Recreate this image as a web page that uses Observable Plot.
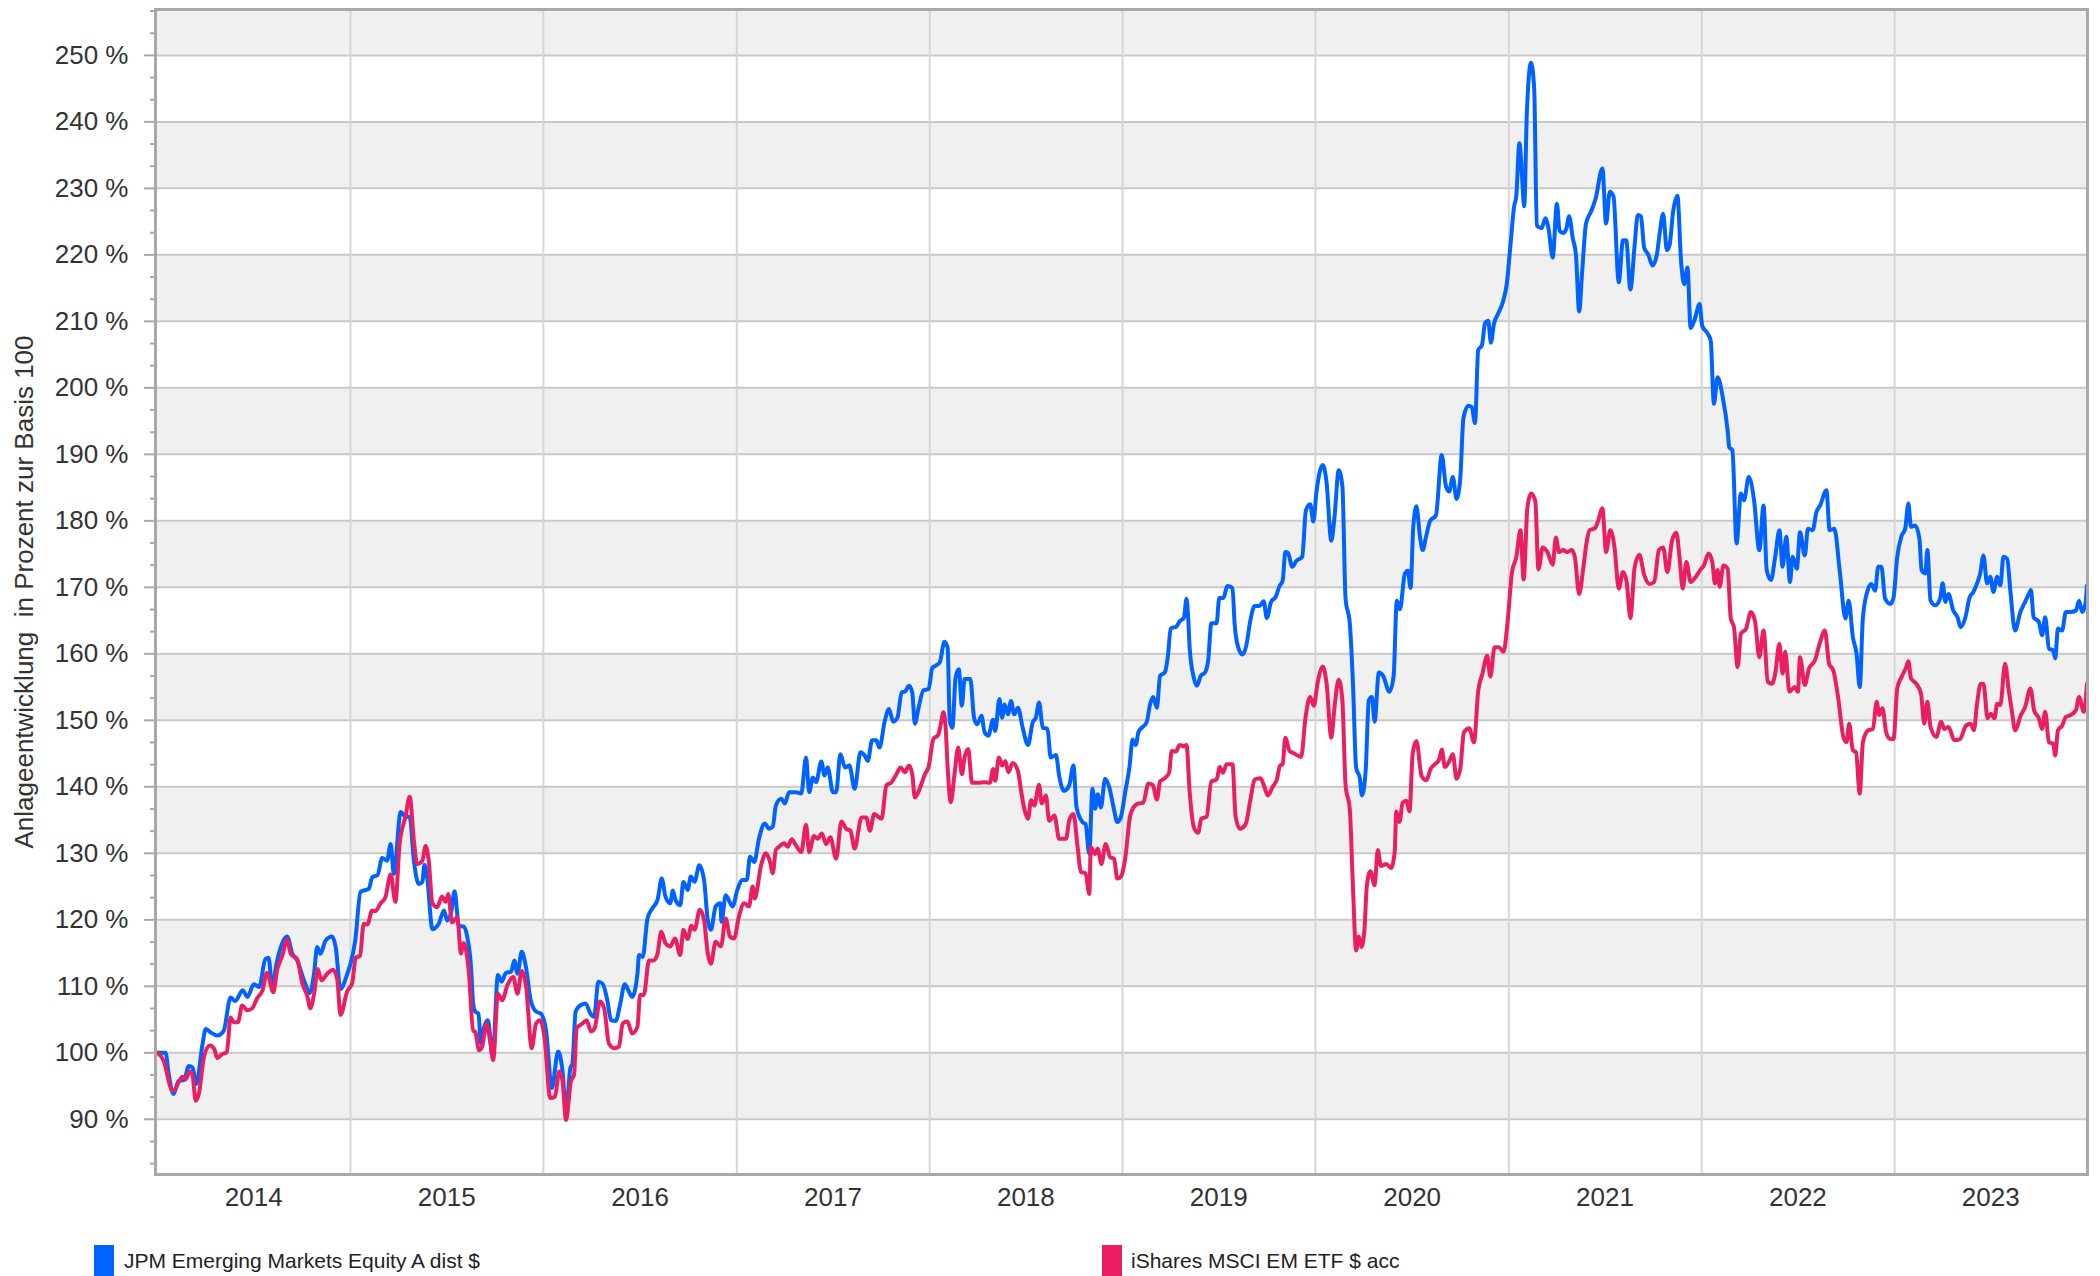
<!DOCTYPE html>
<html>
<head>
<meta charset="utf-8">
<script src="https://cdn.jsdelivr.net/npm/d3@7"></script>
<script src="https://cdn.jsdelivr.net/npm/@observablehq/plot@0.6"></script>
<style>
  html, body { margin: 0; padding: 0; background: #fff; }
  #wrap { position: relative; width: 2100px; height: 1276px; overflow: hidden; font-family: "Liberation Sans", Arial, sans-serif; }
  #legend { position: absolute; left: 0; top: 0; width: 2100px; height: 1276px; pointer-events: none; }
  .sw { position: absolute; top: 1245px; width: 20px; height: 40px; }
  .lt { position: absolute; top: 1250px; font-size: 21px; line-height: 21px; color: #222; white-space: nowrap; }
</style>
</head>
<body>
<div id="wrap">
  <div id="chart"></div>
  <div id="legend"></div>
</div>
<script>
// ---------- data ----------
const seriesNames = ["JPM Emerging Markets Equity A dist $", "iShares MSCI EM ETF $ acc"];
const seriesColors = ["#0062ff", "#e91e63"];
const yAxisTitle = "Anlageentwicklung\u00a0 in Prozent zur Basis 100";
const yTickValues = [90, 100, 110, 120, 130, 140, 150, 160, 170, 180, 190, 200, 210, 220, 230, 240, 250];
const yearLabels = ["2014", "2015", "2016", "2017", "2018", "2019", "2020", "2021", "2022", "2023"];
const yearStarts = ["2015-01-01", "2016-01-01", "2017-01-01", "2018-01-01", "2019-01-01", "2020-01-01", "2021-01-01", "2022-01-01", "2023-01-01"];
const bandLow = [90, 110, 130, 150, 170, 190, 210, 230, 250];
const xDomain = ["2013-12-28", "2024-01-01"];
const yDomain = [81.7, 256.9];

const jpm = [
["2014-01-01",100.0],["2014-01-16",100.0],["2014-01-22",96.8],["2014-01-31",93.8],["2014-02-10",95.8],["2014-02-20",95.9],
["2014-03-01",98.0],["2014-03-08",97.8],["2014-03-15",95.3],["2014-03-27",101.3],["2014-04-02",103.6],["2014-04-11",103.1],
["2014-04-24",102.6],["2014-05-06",103.3],["2014-05-19",108.3],["2014-05-28",107.8],["2014-06-11",109.4],["2014-06-20",108.4],
["2014-07-02",110.3],["2014-07-12",109.9],["2014-07-24",114.1],["2014-07-30",114.3],["2014-08-06",109.8],["2014-08-14",113.4],
["2014-09-03",117.5],["2014-09-13",114.9],["2014-09-22",113.9],["2014-10-05",110.9],["2014-10-16",109.0],["2014-10-24",111.9],
["2014-10-30",115.9],["2014-11-05",114.9],["2014-11-15",116.9],["2014-11-27",117.5],["2014-12-04",115.9],["2014-12-13",109.6],
["2014-12-26",111.9],
["2015-01-01",113.4],["2015-01-10",116.9],["2015-01-20",124.2],["2015-02-05",124.7],["2015-02-11",126.4],["2015-02-21",126.7],
["2015-03-02",129.3],["2015-03-11",128.9],["2015-03-18",131.4],["2015-03-24",126.9],["2015-04-06",136.2],["2015-04-15",135.5],
["2015-04-23",135.5],["2015-05-01",128.9],["2015-05-10",125.4],["2015-05-17",125.7],["2015-05-21",128.3],["2015-05-26",126.4],
["2015-06-05",118.6],["2015-06-17",119.4],["2015-06-27",121.4],["2015-07-03",119.9],["2015-07-10",120.9],["2015-07-17",124.3],
["2015-07-25",119.1],["2015-08-03",119.0],["2015-08-10",117.4],["2015-08-17",113.0],["2015-08-21",107.5],["2015-08-25",106.2],
["2015-08-31",105.9],["2015-09-05",101.4],["2015-09-11",103.9],["2015-09-18",104.9],["2015-09-27",99.4],["2015-10-07",111.7],
["2015-10-14",110.7],["2015-10-22",112.0],["2015-11-01",112.2],["2015-11-07",113.9],["2015-11-13",111.9],["2015-11-21",115.2],
["2015-11-29",112.9],["2015-12-08",107.9],["2015-12-18",106.2],["2015-12-27",105.9],
["2016-01-06",103.4],["2016-01-17",94.7],["2016-01-29",100.2],["2016-02-06",97.4],["2016-02-13",91.2],["2016-02-21",97.7],
["2016-02-25",98.4],["2016-03-02",106.2],["2016-03-12",107.2],["2016-03-21",107.4],["2016-03-30",105.9],["2016-04-06",105.4],
["2016-04-14",110.7],["2016-04-22",110.4],["2016-05-01",107.9],["2016-05-08",104.9],["2016-05-17",104.8],["2016-05-25",107.2],
["2016-06-03",110.3],["2016-06-11",109.2],["2016-06-17",108.4],["2016-06-27",111.9],["2016-06-30",114.7],["2016-07-07",114.4],
["2016-07-16",120.2],["2016-07-25",121.7],["2016-08-04",123.0],["2016-08-12",126.2],["2016-08-19",123.5],["2016-08-28",122.5],
["2016-09-02",124.4],["2016-09-07",123.0],["2016-09-16",122.2],["2016-09-22",125.7],["2016-09-30",124.5],["2016-10-06",126.5],
["2016-10-13",125.7],["2016-10-22",128.2],["2016-10-31",126.0],["2016-11-07",120.0],["2016-11-13",118.5],["2016-11-22",122.0],
["2016-12-01",122.5],["2016-12-03",119.7],["2016-12-11",123.7],["2016-12-24",122.0],
["2017-01-02",124.5],["2017-01-12",126.0],["2017-01-20",126.0],["2017-01-26",129.5],["2017-02-03",128.7],["2017-02-12",132.2],
["2017-02-23",134.5],["2017-03-03",133.7],["2017-03-10",134.0],["2017-03-16",137.2],["2017-03-26",138.2],["2017-04-02",137.5],
["2017-04-10",139.2],["2017-04-23",139.2],["2017-05-03",139.0],["2017-05-12",144.4],["2017-05-18",139.2],["2017-05-25",141.4],
["2017-05-31",140.7],["2017-06-10",143.8],["2017-06-16",141.7],["2017-06-22",142.9],["2017-07-02",139.2],["2017-07-08",139.2],
["2017-07-16",144.9],["2017-07-25",142.9],["2017-08-02",143.2],["2017-08-12",139.7],["2017-08-23",145.2],["2017-08-31",144.7],
["2017-09-06",143.9],["2017-09-14",147.0],["2017-09-22",147.0],["2017-09-28",145.9],["2017-10-08",149.9],["2017-10-16",151.7],
["2017-10-24",149.8],["2017-11-01",150.4],["2017-11-09",154.2],["2017-11-15",154.3],["2017-11-23",155.2],["2017-11-29",154.2],
["2017-12-04",149.5],["2017-12-11",151.9],["2017-12-20",154.5],["2017-12-30",154.7],
["2018-01-06",157.9],["2018-01-12",158.2],["2018-01-20",158.7],["2018-01-29",161.8],["2018-02-04",160.9],["2018-02-08",149.9],
["2018-02-13",148.9],["2018-02-19",156.4],["2018-02-25",157.7],["2018-03-03",152.2],["2018-03-08",156.2],["2018-03-19",156.2],
["2018-03-26",150.4],["2018-04-01",149.4],["2018-04-09",150.7],["2018-04-15",148.2],["2018-04-22",147.7],["2018-05-01",150.1],
["2018-05-05",148.4],["2018-05-13",153.2],["2018-05-18",150.4],["2018-05-23",152.4],["2018-05-29",150.9],["2018-06-04",152.9],
["2018-06-10",150.9],["2018-06-17",151.9],["2018-06-26",148.9],["2018-07-06",146.3],["2018-07-15",149.7],["2018-07-21",150.4],
["2018-07-27",152.7],["2018-08-03",148.9],["2018-08-12",148.7],["2018-08-18",144.4],["2018-08-28",144.8],["2018-09-03",141.7],
["2018-09-12",139.4],["2018-09-22",140.2],["2018-09-30",143.2],["2018-10-06",136.9],["2018-10-17",134.7],["2018-10-23",134.4],
["2018-10-30",129.9],["2018-11-05",139.7],["2018-11-10",136.7],["2018-11-15",138.9],["2018-11-21",136.9],["2018-11-29",141.2],
["2018-12-07",139.9],["2018-12-15",136.9],["2018-12-22",134.7],["2018-12-29",135.5],
["2019-01-06",139.2],["2019-01-14",142.9],["2019-01-20",147.1],["2019-01-26",146.3],["2019-01-31",148.2],["2019-02-16",149.8],
["2019-02-22",152.4],["2019-02-28",153.5],["2019-03-07",151.9],["2019-03-13",156.7],["2019-03-22",157.2],["2019-03-28",159.8],
["2019-04-02",163.8],["2019-04-13",164.1],["2019-04-19",164.9],["2019-04-27",165.4],["2019-05-02",168.3],["2019-05-05",165.7],
["2019-05-08",160.9],["2019-05-15",156.7],["2019-05-22",155.2],["2019-05-29",156.7],["2019-06-06",157.2],["2019-06-12",159.0],
["2019-06-18",164.6],["2019-06-28",164.6],["2019-07-03",168.4],["2019-07-11",168.4],["2019-07-18",170.2],["2019-07-28",169.9],
["2019-08-01",164.6],["2019-08-07",161.2],["2019-08-16",159.9],["2019-08-23",161.2],["2019-08-31",165.1],["2019-09-08",167.2],
["2019-09-17",167.2],["2019-09-25",167.9],["2019-10-01",165.4],["2019-10-09",167.8],["2019-10-18",168.6],["2019-10-25",170.2],
["2019-10-31",171.0],["2019-11-05",175.3],["2019-11-10",175.2],["2019-11-18",173.1],["2019-11-26",174.0],["2019-12-07",174.6],
["2019-12-14",181.6],["2019-12-22",182.5],["2019-12-28",179.9],
["2020-01-03",184.4],["2020-01-15",188.4],["2020-01-22",185.8],["2020-01-31",177.0],["2020-02-06",180.5],["2020-02-14",187.6],
["2020-02-21",185.2],["2020-02-27",168.3],["2020-03-06",164.6],["2020-03-12",155.6],["2020-03-18",142.9],["2020-03-25",141.3],
["2020-03-29",138.7],["2020-04-05",142.4],["2020-04-11",153.0],["2020-04-17",153.5],["2020-04-22",149.8],["2020-04-30",157.2],
["2020-05-08",156.7],["2020-05-20",154.3],["2020-05-28",156.7],["2020-06-03",168.0],["2020-06-09",166.7],["2020-06-18",172.0],
["2020-06-24",172.5],["2020-06-29",169.9],["2020-07-04",178.9],["2020-07-10",182.2],["2020-07-17",177.5],["2020-07-22",175.6],
["2020-07-28",177.5],["2020-08-05",180.0],["2020-08-16",180.8],["2020-08-27",189.9],["2020-09-04",185.2],["2020-09-10",184.4],
["2020-09-17",186.6],["2020-09-24",183.3],["2020-10-01",186.3],["2020-10-07",195.4],["2020-10-16",197.3],["2020-10-23",197.1],
["2020-10-29",194.7],["2020-11-04",205.7],["2020-11-11",206.4],["2020-11-17",209.7],["2020-11-23",210.1],["2020-11-28",206.8],
["2020-12-04",209.7],["2020-12-12",211.2],["2020-12-21",213.0],["2020-12-28",215.6],
["2021-01-04",221.4],["2021-01-11",227.3],["2021-01-15",228.8],["2021-01-21",236.8],["2021-01-26",231.7],["2021-01-30",227.3],
["2021-02-04",241.2],["2021-02-12",248.9],["2021-02-18",244.9],["2021-02-23",224.4],["2021-03-04",224.0],["2021-03-11",225.5],
["2021-03-17",224.0],["2021-03-25",219.6],["2021-04-02",227.7],["2021-04-07",223.6],["2021-04-14",223.3],["2021-04-20",224.0],
["2021-04-25",225.8],["2021-05-02",222.5],["2021-05-08",220.0],["2021-05-14",211.5],["2021-05-20",217.8],["2021-05-27",224.7],
["2021-06-06",226.6],["2021-06-14",228.4],["2021-06-27",233.0],["2021-07-04",224.7],["2021-07-11",229.5],["2021-07-18",228.8],
["2021-07-28",215.9],["2021-08-05",222.2],["2021-08-11",222.2],["2021-08-19",214.8],["2021-08-27",221.4],["2021-09-02",226.0],
["2021-09-08",225.8],["2021-09-14",221.1],["2021-09-22",220.0],["2021-09-30",218.4],["2021-10-08",220.0],["2021-10-14",223.6],
["2021-10-20",226.2],["2021-10-27",220.7],["2021-11-01",221.4],["2021-11-08",226.6],["2021-11-16",228.9],["2021-11-23",218.9],
["2021-11-29",215.6],["2021-12-05",218.1],["2021-12-11",209.0],["2021-12-19",210.4],["2021-12-28",212.6],
["2022-01-02",209.3],["2022-01-12",208.2],["2022-01-18",207.1],["2022-01-24",197.6],["2022-01-31",201.6],["2022-02-10",198.5],
["2022-02-19",193.6],["2022-02-22",191.1],["2022-02-28",190.6],["2022-03-08",176.6],["2022-03-16",184.1],["2022-03-22",183.1],
["2022-03-31",186.6],["2022-04-10",183.1],["2022-04-20",175.6],["2022-04-28",182.3],["2022-05-04",172.6],["2022-05-12",171.1],
["2022-05-20",174.6],["2022-05-28",178.6],["2022-06-03",173.1],["2022-06-10",177.6],["2022-06-17",170.8],["2022-06-22",174.6],
["2022-06-30",172.8],["2022-07-06",178.3],["2022-07-15",174.8],["2022-07-21",178.8],["2022-07-30",178.6],["2022-08-06",181.3],
["2022-08-13",182.3],["2022-08-25",184.6],["2022-08-31",178.6],["2022-09-09",178.8],["2022-09-19",172.6],["2022-09-30",165.3],
["2022-10-06",168.0],["2022-10-14",162.5],["2022-10-21",160.0],["2022-10-27",155.0],["2022-11-02",165.5],["2022-11-12",169.8],
["2022-11-18",170.5],["2022-11-25",169.5],["2022-12-01",173.1],["2022-12-07",173.1],["2022-12-14",168.3],["2022-12-24",167.5],
["2022-12-30",168.5],
["2023-01-06",174.6],["2023-01-14",177.7],["2023-01-21",178.8],["2023-01-27",182.6],["2023-02-01",179.1],["2023-02-09",179.3],
["2023-02-17",177.3],["2023-02-21",172.6],["2023-02-28",172.1],["2023-03-04",175.6],["2023-03-10",168.0],["2023-03-19",167.3],
["2023-03-28",168.3],["2023-04-02",170.6],["2023-04-07",167.8],["2023-04-13",169.0],["2023-04-22",166.5],["2023-04-30",165.5],
["2023-05-06",164.0],["2023-05-15",165.5],["2023-05-23",168.5],["2023-05-30",169.3],["2023-06-06",170.6],["2023-06-12",172.1],
["2023-06-18",174.8],["2023-06-25",170.6],["2023-07-01",171.6],["2023-07-07",169.3],["2023-07-14",171.6],["2023-07-20",170.3],
["2023-07-26",174.6],["2023-08-02",174.3],["2023-08-08",169.5],["2023-08-17",163.5],["2023-08-27",166.3],["2023-09-03",167.5],
["2023-09-12",169.0],["2023-09-16",169.6],["2023-09-21",165.5],["2023-10-01",164.8],["2023-10-07",162.8],["2023-10-13",165.5],
["2023-10-20",160.8],["2023-10-28",160.5],["2023-11-01",159.3],["2023-11-06",163.8],["2023-11-14",163.5],["2023-11-21",166.3],
["2023-11-30",166.3],["2023-12-10",166.5],["2023-12-16",168.0],["2023-12-22",166.3],["2023-12-28",167.5],["2023-12-31",170.3]
];

const ishares = [
["2014-01-01",100.0],["2014-01-13",98.7],["2014-01-27",94.5],["2014-01-31",94.3],["2014-02-17",96.4],["2014-02-23",96.0],
["2014-03-03",97.2],["2014-03-08",96.7],["2014-03-14",92.8],["2014-03-20",93.8],["2014-03-30",99.5],["2014-04-10",101.1],
["2014-04-18",100.6],["2014-04-24",99.2],["2014-05-03",99.8],["2014-05-12",100.1],["2014-05-19",105.3],["2014-05-25",104.6],
["2014-06-02",104.6],["2014-06-10",107.1],["2014-06-20",106.4],["2014-06-29",106.7],["2014-07-09",108.3],["2014-07-18",109.3],
["2014-07-27",112.0],["2014-08-08",109.1],["2014-08-15",112.4],["2014-08-25",114.6],["2014-09-03",117.0],["2014-09-10",114.9],
["2014-09-22",114.1],["2014-10-02",110.4],["2014-10-11",108.6],["2014-10-17",106.7],["2014-10-24",108.8],["2014-10-31",112.6],
["2014-11-07",110.9],["2014-11-18",111.9],["2014-11-29",112.5],["2014-12-07",111.0],["2014-12-13",105.7],["2014-12-26",109.3],
["2015-01-04",110.4],["2015-01-11",114.3],["2015-01-19",114.6],["2015-01-26",119.4],["2015-02-02",119.3],["2015-02-11",121.4],
["2015-02-17",121.3],["2015-02-27",122.5],["2015-03-08",123.4],["2015-03-18",126.8],["2015-03-27",122.7],["2015-04-04",131.5],
["2015-04-15",135.5],["2015-04-23",138.5],["2015-05-01",131.9],["2015-05-07",128.4],["2015-05-17",128.9],["2015-05-23",131.1],
["2015-05-29",128.9],["2015-06-05",122.5],["2015-06-14",121.9],["2015-06-23",123.5],["2015-06-30",122.7],["2015-07-05",123.9],
["2015-07-12",119.6],["2015-07-22",120.4],["2015-07-29",114.9],["2015-08-03",116.5],["2015-08-13",112.1],["2015-08-21",103.3],
["2015-08-25",103.2],["2015-09-01",100.4],["2015-09-07",100.9],["2015-09-15",104.4],["2015-09-22",101.9],["2015-09-28",98.9],
["2015-10-07",108.9],["2015-10-15",107.9],["2015-10-25",110.2],["2015-11-05",111.4],["2015-11-13",108.9],["2015-11-21",112.3],
["2015-11-29",110.2],["2015-12-10",100.7],["2015-12-18",104.4],["2015-12-26",104.9],
["2016-01-03",102.4],["2016-01-14",93.2],["2016-01-23",93.4],["2016-01-31",97.2],["2016-02-06",95.9],["2016-02-13",89.9],
["2016-02-22",95.7],["2016-02-28",96.7],["2016-03-04",103.7],["2016-03-15",104.4],["2016-03-23",104.9],["2016-03-31",103.2],
["2016-04-07",103.7],["2016-04-17",107.7],["2016-04-25",106.7],["2016-05-04",101.4],["2016-05-14",100.7],["2016-05-23",100.9],
["2016-05-30",104.4],["2016-06-08",104.7],["2016-06-17",102.9],["2016-06-27",103.9],["2016-07-02",108.7],["2016-07-09",108.7],
["2016-07-19",113.9],["2016-07-28",113.9],["2016-08-04",114.9],["2016-08-11",118.2],["2016-08-19",116.5],["2016-08-28",116.0],
["2016-09-06",117.2],["2016-09-16",114.7],["2016-09-22",118.5],["2016-09-30",117.1],["2016-10-07",119.1],["2016-10-13",118.5],
["2016-10-23",121.5],["2016-10-31",120.0],["2016-11-07",115.0],["2016-11-13",113.4],["2016-11-22",116.7],["2016-12-02",116.0],
["2016-12-11",120.2],["2016-12-19",117.5],["2016-12-27",117.2],
["2017-01-05",120.5],["2017-01-15",122.5],["2017-01-24",122.0],["2017-01-31",125.0],["2017-02-04",123.2],["2017-02-16",128.2],
["2017-02-25",130.0],["2017-03-05",128.7],["2017-03-10",127.0],["2017-03-16",130.5],["2017-03-22",131.0],["2017-04-01",131.5],
["2017-04-07",131.0],["2017-04-15",132.1],["2017-04-23",131.2],["2017-05-03",130.2],["2017-05-12",134.3],["2017-05-18",130.2],
["2017-05-27",132.6],["2017-06-03",132.2],["2017-06-11",133.0],["2017-06-19",131.4],["2017-06-27",132.4],["2017-07-08",129.2],
["2017-07-18",134.8],["2017-07-27",133.7],["2017-08-04",133.4],["2017-08-12",130.7],["2017-08-25",135.4],["2017-09-03",135.4],
["2017-09-10",133.4],["2017-09-18",135.9],["2017-10-02",135.2],["2017-10-11",140.2],["2017-10-21",140.7],["2017-10-30",141.9],
["2017-11-07",142.9],["2017-11-15",142.2],["2017-11-23",143.2],["2017-11-29",141.9],["2017-12-04",138.4],["2017-12-14",139.9],
["2017-12-23",141.9],["2017-12-30",143.0],
["2018-01-08",147.2],["2018-01-17",147.8],["2018-01-22",149.4],["2018-01-27",151.2],["2018-01-31",149.2],["2018-02-04",142.9],
["2018-02-10",137.7],["2018-02-17",141.9],["2018-02-24",145.9],["2018-03-03",141.9],["2018-03-08",144.4],["2018-03-15",145.7],
["2018-03-22",140.6],["2018-04-03",140.6],["2018-04-15",140.7],["2018-04-25",140.6],["2018-05-01",142.7],["2018-05-05",140.9],
["2018-05-12",144.4],["2018-05-18",143.2],["2018-05-24",143.9],["2018-05-30",142.2],["2018-06-07",143.6],["2018-06-17",142.4],
["2018-06-23",139.4],["2018-06-29",136.7],["2018-07-06",135.2],["2018-07-12",138.0],["2018-07-18",137.2],["2018-07-27",140.3],
["2018-08-01",137.5],["2018-08-09",138.7],["2018-08-15",134.9],["2018-08-25",135.7],["2018-09-03",132.2],["2018-09-16",132.2],
["2018-09-22",134.9],["2018-09-30",135.9],["2018-10-08",130.9],["2018-10-14",127.2],["2018-10-23",127.0],["2018-10-30",123.9],
["2018-11-02",130.9],["2018-11-10",129.9],["2018-11-15",130.7],["2018-11-22",128.4],["2018-11-30",131.4],["2018-12-09",129.4],
["2018-12-16",129.2],["2018-12-22",126.2],["2018-12-29",126.5],
["2019-01-06",129.2],["2019-01-15",135.5],["2019-01-21",136.8],["2019-01-31",137.5],["2019-02-09",137.6],["2019-02-19",140.5],
["2019-02-27",140.3],["2019-03-07",138.1],["2019-03-13",140.8],["2019-03-22",141.3],["2019-03-30",142.1],["2019-04-04",145.4],
["2019-04-12",145.3],["2019-04-19",146.3],["2019-04-27",146.1],["2019-05-02",146.3],["2019-05-08",139.2],["2019-05-16",133.9],
["2019-05-24",133.1],["2019-05-30",135.2],["2019-06-09",135.5],["2019-06-18",140.8],["2019-06-28",141.1],["2019-07-04",143.0],
["2019-07-10",142.1],["2019-07-17",143.4],["2019-07-28",143.4],["2019-08-03",135.5],["2019-08-11",133.7],["2019-08-22",134.4],
["2019-08-31",138.1],["2019-09-08",141.1],["2019-09-19",141.3],["2019-09-25",140.3],["2019-10-03",138.7],["2019-10-12",140.0],
["2019-10-20",141.1],["2019-10-26",143.2],["2019-10-31",143.4],["2019-11-05",147.4],["2019-11-13",145.4],["2019-11-22",145.0],
["2019-12-05",144.5],["2019-12-13",150.3],["2019-12-22",153.5],["2019-12-29",152.2],
["2020-01-05",155.6],["2020-01-15",158.1],["2020-01-22",155.6],["2020-01-31",147.4],["2020-02-06",151.9],["2020-02-14",156.1],
["2020-02-21",153.0],["2020-02-27",140.3],["2020-03-06",136.6],["2020-03-12",124.9],["2020-03-18",115.4],["2020-03-23",117.5],
["2020-03-28",115.9],["2020-04-03",118.8],["2020-04-07",124.9],["2020-04-14",127.3],["2020-04-22",125.2],["2020-04-28",130.5],
["2020-05-04",128.1],["2020-05-14",128.4],["2020-05-23",127.8],["2020-05-30",130.2],["2020-06-02",136.3],["2020-06-08",134.7],
["2020-06-14",137.6],["2020-06-21",137.9],["2020-06-27",136.3],["2020-07-03",145.0],["2020-07-10",146.9],["2020-07-20",141.6],
["2020-07-29",141.0],["2020-08-06",142.7],["2020-08-14",143.4],["2020-08-22",144.1],["2020-08-27",145.6],["2020-09-02",143.0],
["2020-09-10",143.8],["2020-09-17",144.9],["2020-09-24",141.2],["2020-10-01",142.7],["2020-10-08",148.2],["2020-10-18",148.8],
["2020-10-27",146.7],["2020-11-04",154.4],["2020-11-12",157.0],["2020-11-21",159.7],["2020-11-27",156.6],["2020-12-05",161.0],
["2020-12-13",161.0],["2020-12-22",160.3],["2020-12-29",164.3],
["2021-01-07",172.3],["2021-01-15",174.5],["2021-01-23",178.6],["2021-01-29",171.2],["2021-02-05",181.9],["2021-02-12",184.1],
["2021-02-20",183.0],["2021-02-26",172.7],["2021-03-06",176.0],["2021-03-15",175.3],["2021-03-25",173.4],["2021-03-31",177.5],
["2021-04-06",175.3],["2021-04-14",175.6],["2021-04-21",175.3],["2021-04-30",175.6],["2021-05-06",174.5],["2021-05-14",169.0],
["2021-05-22",173.0],["2021-05-28",176.7],["2021-06-03",178.6],["2021-06-13",178.9],["2021-06-19",180.0],["2021-06-27",181.9],
["2021-07-04",175.3],["2021-07-12",178.6],["2021-07-20",176.0],["2021-07-28",169.8],["2021-08-05",172.3],["2021-08-12",170.8],
["2021-08-19",165.4],["2021-08-27",173.0],["2021-09-05",174.9],["2021-09-14",171.9],["2021-09-24",170.5],["2021-10-03",170.8],
["2021-10-12",175.6],["2021-10-20",176.0],["2021-10-28",172.3],["2021-11-06",177.1],["2021-11-14",178.2],["2021-11-20",174.5],
["2021-11-26",169.8],["2021-12-03",173.8],["2021-12-11",170.8],["2021-12-21",171.6],["2021-12-30",172.7],
["2022-01-05",173.3],["2022-01-14",175.1],["2022-01-21",173.8],["2022-01-26",170.6],["2022-01-31",172.6],["2022-02-04",170.1],
["2022-02-11",173.3],["2022-02-19",172.8],["2022-02-25",165.3],["2022-03-03",164.0],["2022-03-10",158.0],["2022-03-16",163.0],
["2022-03-26",163.8],["2022-04-04",166.3],["2022-04-12",164.8],["2022-04-20",159.5],["2022-04-28",163.5],["2022-05-06",155.8],
["2022-05-14",155.5],["2022-05-20",157.0],["2022-05-28",161.5],["2022-06-03",157.0],["2022-06-08",160.3],["2022-06-16",154.3],
["2022-06-26",155.0],["2022-07-02",154.3],["2022-07-06",159.5],["2022-07-15",155.3],["2022-07-23",157.8],["2022-08-03",159.0],
["2022-08-12",161.5],["2022-08-22",163.5],["2022-08-30",158.5],["2022-09-07",157.5],["2022-09-16",153.5],["2022-09-26",147.5],
["2022-10-02",146.7],["2022-10-07",149.5],["2022-10-14",145.5],["2022-10-20",145.2],["2022-10-27",139.0],["2022-11-02",146.7],
["2022-11-12",148.5],["2022-11-21",148.7],["2022-11-28",152.8],["2022-12-03",150.8],["2022-12-09",151.8],["2022-12-16",148.2],
["2022-12-23",147.2],["2022-12-30",147.2],
["2023-01-06",154.8],["2023-01-14",156.5],["2023-01-23",158.0],["2023-01-27",158.9],["2023-02-01",156.3],["2023-02-11",155.5],
["2023-02-20",154.0],["2023-02-26",149.5],["2023-03-04",152.8],["2023-03-10",149.0],["2023-03-21",147.5],["2023-03-30",149.8],
["2023-04-05",148.7],["2023-04-13",149.0],["2023-04-24",147.0],["2023-05-05",147.2],["2023-05-16",149.2],["2023-05-25",149.5],
["2023-05-31",148.5],["2023-06-06",152.5],["2023-06-13",155.5],["2023-06-18",155.5],["2023-06-26",150.3],["2023-07-02",151.0],
["2023-07-09",150.3],["2023-07-14",152.5],["2023-07-20",152.3],["2023-07-29",158.5],["2023-08-05",154.5],["2023-08-11",151.3],
["2023-08-17",148.5],["2023-08-28",150.8],["2023-09-05",152.0],["2023-09-15",154.8],["2023-09-22",151.5],["2023-10-01",150.3],
["2023-10-07",148.7],["2023-10-13",151.3],["2023-10-20",146.7],["2023-10-28",146.5],["2023-11-01",144.7],["2023-11-06",148.5],
["2023-11-14",149.2],["2023-11-21",150.5],["2023-11-30",150.8],["2023-12-10",151.5],["2023-12-16",153.5],["2023-12-25",151.3],
["2023-12-31",155.5]
];

// ---------- build ----------
const parse = s => new Date(s + "T00:00:00Z");
const toRows = arr => arr.map(([d, v]) => ({date: parse(d), value: v}));
const jpmRows = toRows(jpm);
const ishRows = toRows(ishares);
const bands = bandLow.map(v => ({y1: v, y2: v + 10}));
const minorTicks = d3.range(yDomain[0] - (yDomain[0] % (10 / 3)) + 10 / 3, yDomain[1], 10 / 3)
  .map(v => Math.round(v * 1000) / 1000)
  .filter(v => Math.abs(v / 10 - Math.round(v / 10)) > 1e-6);
const midYears = yearLabels.map(y => parse(y + "-07-02"));
const x0 = parse(xDomain[0]), x1 = parse(xDomain[1]);

const chart = Plot.plot({
  width: 2100,
  height: 1236,
  marginLeft: 155,
  marginRight: 13,
  marginTop: 9,
  marginBottom: 62,
  style: {fontFamily: "'Liberation Sans', Arial, sans-serif", fontSize: "26px", color: "#333", background: "transparent"},
  x: {type: "utc", domain: [x0, x1]},
  y: {domain: yDomain},
  marks: [
    Plot.rect(bands, {x1: () => x0, x2: () => x1, y1: "y1", y2: "y2", fill: "#f0f0f0", clip: true}),
    Plot.ruleY(yTickValues, {stroke: "#c9c9c9", strokeWidth: 2}),
    Plot.ruleX(yearStarts.map(parse), {stroke: "#d6d6d6", strokeWidth: 2}),
    Plot.axisY(minorTicks, {tickSize: 5, tickFormat: () => "", stroke: "#a8a8a8", strokeWidth: 2}),
    Plot.axisY(yTickValues, {tickSize: 11, tickPadding: 16, tickFormat: d => d + " %", stroke: "#a8a8a8", strokeWidth: 2, fill: "#333", fontSize: 26, label: null}),
    Plot.axisX(midYears, {tickSize: 0, tickPadding: 13, tickFormat: (d, i) => yearLabels[i], fill: "#333", fontSize: 26, label: null}),
    Plot.line(jpmRows, {x: "date", y: "value", stroke: seriesColors[0], strokeWidth: 4, curve: "monotone-x", clip: true}),
    Plot.line(ishRows, {x: "date", y: "value", stroke: seriesColors[1], strokeWidth: 4, curve: "monotone-x", clip: true}),
    Plot.frame({stroke: "#a8a8a8", strokeWidth: 3}),
    Plot.text([yAxisTitle], {text: d => d, frameAnchor: "left", rotate: -90, dx: -131, fontSize: 26, fill: "#333", textAnchor: "middle"})
  ]
});
document.getElementById("chart").appendChild(chart);

// ---------- legend (below the svg) ----------
const legendPos = [{sw: 94, tx: 124}, {sw: 1102, tx: 1131}];
const legend = document.getElementById("legend");
seriesNames.forEach((name, i) => {
  const sw = document.createElement("div");
  sw.className = "sw";
  sw.style.left = legendPos[i].sw + "px";
  sw.style.background = seriesColors[i];
  legend.appendChild(sw);
  const t = document.createElement("div");
  t.className = "lt";
  t.style.left = legendPos[i].tx + "px";
  t.textContent = name;
  legend.appendChild(t);
});
</script>
</body>
</html>
